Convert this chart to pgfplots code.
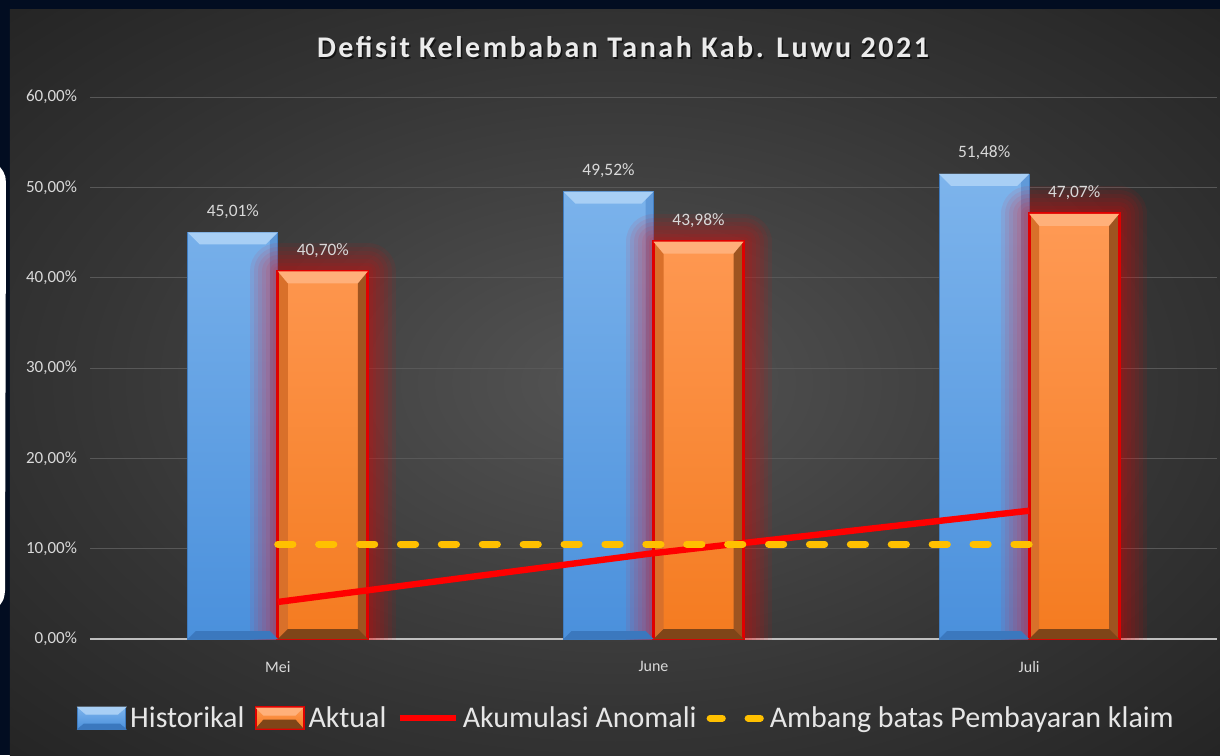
\documentclass[border=0pt]{standalone}
\usepackage{pgfplots}
\pgfplotsset{compat=1.18}
\usepackage{fontspec}
\setmainfont{Carlito}
\definecolor{navybg}{HTML}{020D21}
\definecolor{pin}{HTML}{545454}
\definecolor{pmid}{HTML}{353535}
\definecolor{pout}{HTML}{242424}
\definecolor{gridc}{HTML}{585858}
\definecolor{axisc}{HTML}{BFBFBF}
\definecolor{labc}{HTML}{D9D9D9}
\definecolor{legc}{HTML}{E6E6E6}
\definecolor{bluetop}{HTML}{7DB4EC}
\definecolor{bluebot}{HTML}{4A90DC}
\definecolor{bluebev}{HTML}{A8CFF5}
\definecolor{bluebevb}{HTML}{3B78BE}
\definecolor{blueside}{HTML}{4682C8}
\definecolor{blueedge}{HTML}{3F7CC0}
\definecolor{orgtop}{HTML}{FF9A55}
\definecolor{orgbot}{HTML}{F47B20}
\definecolor{orgbev}{HTML}{FFB07A}
\definecolor{orgleft}{HTML}{D9702A}
\definecolor{orgright}{HTML}{9E5420}
\definecolor{orgbottom}{HTML}{7F4518}
\definecolor{redb}{HTML}{E00000}
\definecolor{linered}{HTML}{FF0000}
\definecolor{lineyel}{HTML}{FFC000}
\pgfdeclareradialshading{panelshade}{\pgfpoint{0bp}{0bp}}{color(0bp)=(pin); color(22bp)=(pmid); color(36bp)=(pout); color(50bp)=(pout)}
% bevel marks (relative to the category centre at the bar top / bar foot)
\pgfdeclareplotmark{btop}{\pgfpathmoveto{\pgfqpoint{-45pt}{0pt}}\pgfpathlineto{\pgfqpoint{0pt}{0pt}}\pgfpathlineto{\pgfqpoint{-6pt}{-6pt}}\pgfpathlineto{\pgfqpoint{-39pt}{-6pt}}\pgfpathclose\pgfusepathqfill}
\pgfdeclareplotmark{bbot}{\pgfpathmoveto{\pgfqpoint{-45pt}{0pt}}\pgfpathlineto{\pgfqpoint{0pt}{0pt}}\pgfpathlineto{\pgfqpoint{-4pt}{4pt}}\pgfpathlineto{\pgfqpoint{-41pt}{4pt}}\pgfpathclose\pgfusepathqfill}
\pgfdeclareplotmark{otop}{\pgfpathmoveto{\pgfqpoint{0pt}{0pt}}\pgfpathlineto{\pgfqpoint{45pt}{0pt}}\pgfpathlineto{\pgfqpoint{40pt}{-6pt}}\pgfpathlineto{\pgfqpoint{5pt}{-6pt}}\pgfpathclose\pgfusepathqfill}
\pgfdeclareplotmark{obot}{\pgfpathmoveto{\pgfqpoint{0pt}{0pt}}\pgfpathlineto{\pgfqpoint{45pt}{0pt}}\pgfpathlineto{\pgfqpoint{40pt}{5pt}}\pgfpathlineto{\pgfqpoint{5pt}{5pt}}\pgfpathclose\pgfusepathqfill}
\pgfplotsset{glow/.style={ybar, bar width=45pt, bar shift=22.5pt, fill=none, draw=red, line join=round, line width=#1, draw opacity=0.07, forget plot}}
\begin{document}
\begin{tikzpicture}
\fill[navybg] (-45pt,-58pt) rectangle (565pt,319.5pt);
\shade[shading=panelshade] (-40pt,-58pt) rectangle (565pt,314.5pt);
\fill[white] (-45pt,236pt) .. controls (-42pt,232pt) .. (-42pt,222pt) -- (-42.5pt,24pt) .. controls (-43pt,20pt) .. (-45pt,17pt) -- cycle;
\begin{axis}[
  scale only axis, width=563.5pt, height=271pt,
  xmin=-0.5, xmax=2.5, ymin=0, ymax=60,
  axis x line=bottom, axis y line=left,
  x axis line style={-, draw=axisc, line width=0.8pt},
  y axis line style={draw=none},
  major tick length=0pt,
  xtick={0,1,2}, xticklabels={Mei,June,Juli},
  ytick={0,10,...,60},
  ymajorgrids, grid style={draw=gridc, line width=0.5pt},
  /pgf/number format/assume math mode=true,
  yticklabel={\pgfmathprintnumber[fixed,fixed zerofill,precision=2,use comma]{\tick}\%},
  yticklabel style={font=\fontsize{8.5}{10}\selectfont, text=labc, xshift=-3pt},
  xticklabel style={font=\fontsize{8}{10}\selectfont, text=labc, yshift=-7.5pt},
  legend style={at={(0.477,-0.146)}, anchor=center, draw=none, fill=none, text=legc,
    font=\fontsize{15}{18}\selectfont, inner sep=0pt,
    /tikz/every even column/.append style={column sep=3pt}},
  legend columns=4,
]
% Historikal
\addplot[ybar, bar width=45pt, bar shift=-22.5pt, draw=blueedge, line width=0.4pt,
  top color=bluetop, bottom color=bluebot, forget plot,
  nodes near coords={\pgfmathprintnumber[fixed,fixed zerofill,precision=2,use comma]{\pgfplotspointmeta}\%},
  every node near coord/.append style={font=\fontsize{8.7}{10}\selectfont, text=labc, anchor=center, yshift=10.5pt, xshift=-22.5pt}]
  coordinates {(0,45.01) (1,49.52) (2,51.48)};
\addplot[ybar, bar width=4pt, bar shift=-2pt, draw=none, fill=blueside, fill opacity=0.5, forget plot]
  coordinates {(0,45.01) (1,49.52) (2,51.48)};
\addplot[only marks, mark=btop, mark options={fill=bluebev, draw=none}, forget plot]
  coordinates {(0,45.01) (1,49.52) (2,51.48)};
\addplot[only marks, mark=bbot, mark options={fill=bluebevb, draw=none}, forget plot]
  coordinates {(0,0) (1,0) (2,0)};
% glow of Aktual
\addplot[glow=28pt] coordinates {(0,40.70) (1,43.98) (2,47.07)};
\addplot[glow=24pt] coordinates {(0,40.70) (1,43.98) (2,47.07)};
\addplot[glow=20pt] coordinates {(0,40.70) (1,43.98) (2,47.07)};
\addplot[glow=16pt] coordinates {(0,40.70) (1,43.98) (2,47.07)};
\addplot[glow=12pt] coordinates {(0,40.70) (1,43.98) (2,47.07)};
\addplot[glow=8pt] coordinates {(0,40.70) (1,43.98) (2,47.07)};
\addplot[glow=5pt] coordinates {(0,40.70) (1,43.98) (2,47.07)};
% Aktual
\addplot[ybar, bar width=45pt, bar shift=22.5pt, draw=none,
  top color=orgtop, bottom color=orgbot, forget plot,
  nodes near coords={\pgfmathprintnumber[fixed,fixed zerofill,precision=2,use comma]{\pgfplotspointmeta}\%},
  every node near coord/.append style={font=\fontsize{8.7}{10}\selectfont, text=labc, anchor=center, yshift=10.5pt, xshift=22.5pt}]
  coordinates {(0,40.70) (1,43.98) (2,47.07)};
\addplot[ybar, bar width=5pt, bar shift=2.5pt, draw=none, fill=orgleft, forget plot]
  coordinates {(0,40.70) (1,43.98) (2,47.07)};
\addplot[ybar, bar width=5pt, bar shift=42.5pt, draw=none, fill=orgright, forget plot]
  coordinates {(0,40.70) (1,43.98) (2,47.07)};
\addplot[only marks, mark=otop, mark options={fill=orgbev, draw=none}, forget plot]
  coordinates {(0,40.70) (1,43.98) (2,47.07)};
\addplot[only marks, mark=obot, mark options={fill=orgbottom, draw=none}, forget plot]
  coordinates {(0,0) (1,0) (2,0)};
\addplot[ybar, bar width=45pt, bar shift=22.5pt, fill=none, draw=redb, line width=1.5pt, forget plot]
  coordinates {(0,40.70) (1,43.98) (2,47.07)};
% Akumulasi Anomali
\addplot[linered, line width=3.2pt, forget plot] coordinates {(0,4.1) (1,9.5) (2,14.2)};
% Ambang batas
\addplot[lineyel, line width=3.6pt, line cap=round, dash pattern=on 7.5pt off 12.95pt, forget plot]
  coordinates {(0,10.5) (1,10.5) (2,10.5)};
% legend
\addlegendimage{legend image code/.code={
  \path[top color=bluetop, bottom color=bluebot, draw=blueedge, line width=0.4pt] (0pt,-5.5pt) rectangle (24pt,5.5pt);
  \fill[bluebev] (0pt,5.5pt) -- (24pt,5.5pt) -- (20pt,2pt) -- (4pt,2pt) -- cycle;
  \fill[bluebevb] (0pt,-5.5pt) -- (24pt,-5.5pt) -- (21pt,-3pt) -- (3pt,-3pt) -- cycle;}}
\addlegendentry{Historikal}
\addlegendimage{legend image code/.code={
  \path[top color=orgtop, bottom color=orgbot, draw=redb, line width=1pt] (0pt,-5.5pt) rectangle (24pt,5.5pt);
  \fill[orgbev] (0.5pt,5pt) -- (23.5pt,5pt) -- (20pt,1.5pt) -- (4pt,1.5pt) -- cycle;
  \fill[orgbottom] (0.5pt,-5pt) -- (23.5pt,-5pt) -- (20pt,-1pt) -- (4pt,-1pt) -- cycle;}}
\addlegendentry{Aktual}
\addlegendimage{legend image code/.code={\draw[linered, line width=3.2pt] (0pt,0pt) -- (28pt,0pt);}}
\addlegendentry{Akumulasi Anomali}
\addlegendimage{legend image code/.code={\draw[lineyel, line width=3.6pt, line cap=round, dash pattern=on 6pt off 13pt] (2pt,0pt) -- (28pt,0pt);}}
\addlegendentry{Ambang batas Pembayaran klaim}
\end{axis}
\node[text=black, opacity=0.6, font=\fontsize{15}{18}\selectfont\bfseries\addfontfeature{LetterSpace=8.5}] at (267.3pt,295.2pt) {Defisit Kelembaban Tanah Kab. Luwu 2021};
\node[text=white!92!black, font=\fontsize{15}{18}\selectfont\bfseries\addfontfeature{LetterSpace=8.5}] at (266.5pt,296pt) {Defisit Kelembaban Tanah Kab. Luwu 2021};
\pgfresetboundingbox
\path[use as bounding box] (-45pt,-58pt) rectangle (565pt,319.5pt);
\end{tikzpicture}
\end{document}
